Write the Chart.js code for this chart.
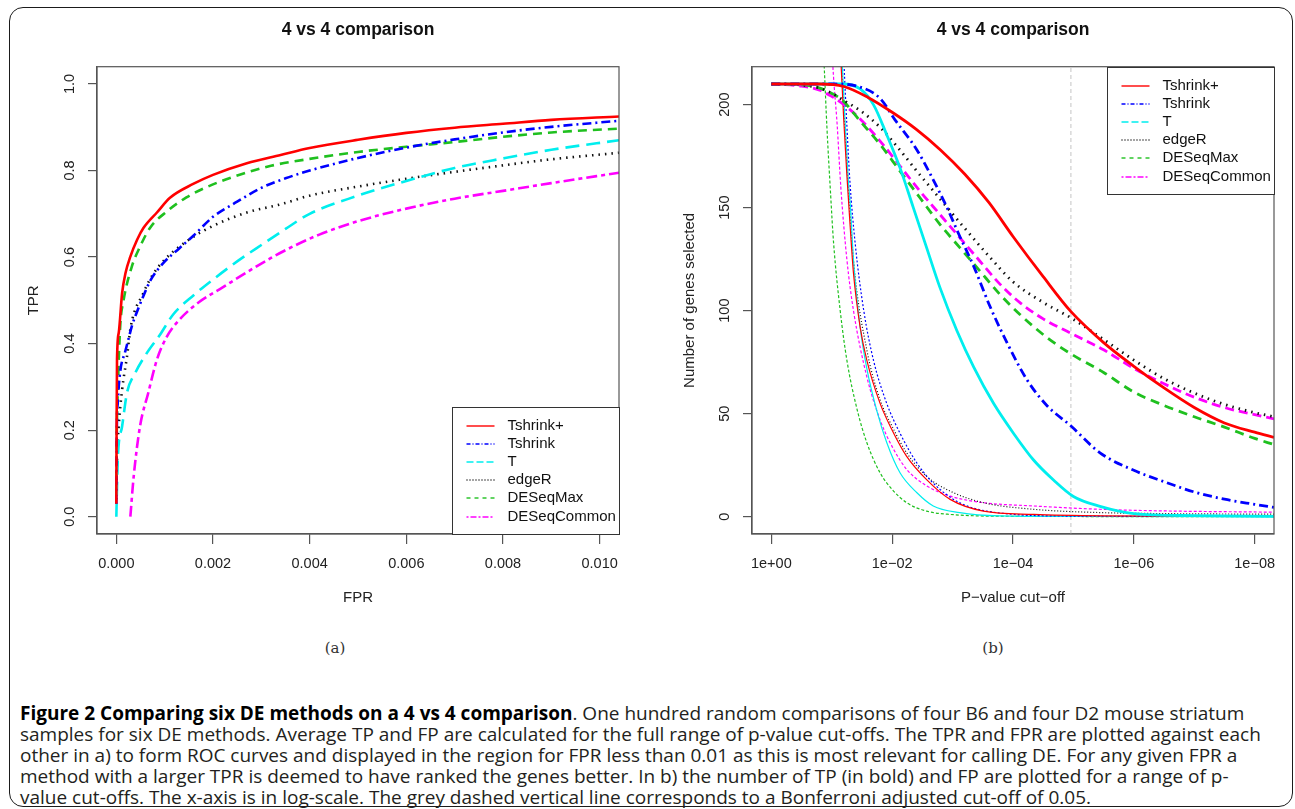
<!DOCTYPE html>
<html>
<head>
<meta charset="utf-8">
<script src="https://cdn.jsdelivr.net/npm/chart.js@4.4.1/dist/chart.umd.min.js"></script>
<style>
  html, body { margin: 0; padding: 0; background: #fff; }
  body { width: 1295px; height: 809px; overflow: hidden; position: relative; }
  #frame { position: absolute; left: 9px; top: 7px; width: 1284px; height: 800px; box-sizing: border-box;
           border: 1.5px solid #1b1b1b; border-radius: 14px; }
  canvas { position: absolute; top: 0; }
  #rocChart { left: 0; }
  #pvalChart { left: 648px; }
  .sub { position: absolute; top: 639px; line-height: 18px; font-family: "DejaVu Serif", "Liberation Serif", serif;
         font-size: 15px; color: #333; transform: translateX(-50%); }
  #caption { position: absolute; left: 20px; top: 702.5px; font-family: "Open Sans", sans-serif; font-size: 19px;
             line-height: 21px; color: #231f20; white-space: nowrap; }
  #caption b { color: #000; }
</style>
</head>
<body>
<div id="frame"></div>
<canvas id="rocChart" width="648" height="620"></canvas>
<canvas id="pvalChart" width="647" height="620"></canvas>
<div class="sub" style="left:335px">(a)</div>
<div class="sub" style="left:993px">(b)</div>
<div id="caption">
<div><b>Figure 2 Comparing six DE methods on a 4 vs 4 comparison</b>. One hundred random comparisons of four B6 and four D2 mouse striatum</div>
<div>samples for six DE methods. Average TP and FP are calculated for the full range of p-value cut-offs. The TPR and FPR are plotted against each</div>
<div>other in a) to form ROC curves and displayed in the region for FPR less than 0.01 as this is most relevant for calling DE. For any given FPR a</div>
<div>method with a larger TPR is deemed to have ranked the genes better. In b) the number of TP (in bold) and FP are plotted for a range of p-</div>
<div>value cut-offs. The x-axis is in log-scale. The grey dashed vertical line corresponds to a Bonferroni adjusted cut-off of 0.05.</div>
</div>
<script>
const methods = ['Tshrink+', 'Tshrink', 'T', 'edgeR', 'DESeqMax', 'DESeqCommon'];

// panel (a): ROC curves, [FPR, TPR]
const fprTicks = [0, 0.002, 0.004, 0.006, 0.008, 0.010];
const fprTickLabels = ['0.000', '0.002', '0.004', '0.006', '0.008', '0.010'];
const tprTicks = [0, 0.2, 0.4, 0.6, 0.8, 1.0];
const tprTickLabels = ['0.0', '0.2', '0.4', '0.6', '0.8', '1.0'];

const rocTshrinkPlus = [[0,0.03],[0.000005,0.2],[0.000014,0.363],[0.00005,0.425],[0.00012,0.517],[0.00019,0.563],
  [0.00029,0.601],[0.00043,0.64],[0.00056,0.667],[0.00084,0.703],[0.00111,0.737],[0.00159,0.769],[0.002,0.79],
  [0.0027,0.817],[0.0034,0.836],[0.004,0.852],[0.005,0.871],[0.006,0.887],[0.007,0.899],[0.008,0.908],[0.009,0.917],[0.0104,0.925]];
const rocTshrink = [[0,0.03],[0.00001,0.2],[0.00003,0.265],[0.00008,0.335],[0.00018,0.38],[0.00025,0.41],[0.00032,0.44],
  [0.00045,0.48],[0.00056,0.51],[0.0007,0.545],[0.00097,0.586],[0.0013,0.62],[0.0016,0.65],[0.002,0.693],[0.0025,0.728],
  [0.003,0.76],[0.0035,0.782],[0.004,0.8],[0.005,0.829],[0.006,0.853],[0.007,0.872],[0.008,0.888],[0.009,0.901],[0.0104,0.915]];
const rocT = [[0,0],[0.00003,0.132],[0.00012,0.209],[0.00022,0.286],[0.00039,0.332],[0.00063,0.378],[0.0009,0.42],
  [0.00118,0.468],[0.0016,0.512],[0.002,0.548],[0.0025,0.59],[0.003,0.628],[0.0035,0.665],[0.004,0.7],[0.005,0.742],
  [0.006,0.776],[0.007,0.806],[0.008,0.828],[0.009,0.848],[0.0104,0.87]];
const rocEdgeR = [[0,0.04],[0.000014,0.132],[0.00005,0.21],[0.00012,0.294],[0.00022,0.37],[0.0003,0.44],[0.00056,0.517],
  [0.00073,0.555],[0.001,0.594],[0.0015,0.64],[0.002,0.672],[0.0027,0.703],[0.0034,0.722],[0.004,0.742],[0.005,0.763],
  [0.006,0.781],[0.007,0.797],[0.008,0.812],[0.009,0.826],[0.0104,0.841]];
const rocDESeqMax = [[0,0.05],[0.00001,0.2],[0.00003,0.29],[0.00008,0.44],[0.00015,0.5],[0.00032,0.578],[0.00049,0.624],
  [0.0007,0.668],[0.00104,0.705],[0.00145,0.738],[0.002,0.768],[0.0026,0.792],[0.0032,0.811],[0.004,0.827],[0.005,0.843],
  [0.006,0.855],[0.007,0.866],[0.008,0.878],[0.009,0.888],[0.0104,0.897]];
const rocDESeqCommon = [[0.00029,0],[0.00036,0.094],[0.00049,0.209],[0.00066,0.286],[0.00084,0.363],[0.00104,0.415],
  [0.00132,0.457],[0.0017,0.495],[0.0022,0.53],[0.0027,0.565],[0.0032,0.598],[0.0037,0.627],[0.0042,0.652],[0.005,0.683],
  [0.006,0.712],[0.007,0.735],[0.008,0.753],[0.009,0.771],[0.0104,0.795]];

// panel (b): genes selected vs p-value cut-off, stored as [-log10(cut-off), count]
const pvalTicks = [1, 1e-2, 1e-4, 1e-6, 1e-8];
const pvalTickLabels = ['1e+00', '1e\u221202', '1e\u221204', '1e\u221206', '1e\u221208'];
const genesTicks = [0, 50, 100, 150, 200];
const genesTickLabels = ['0', '50', '100', '150', '200'];
const bonferroniCutoff = 1.1e-5;

// true positives (bold)
const tpTshrinkPlus = [[0,210],[0.8,210],[1.2,208.8],[1.6,203.5],[2.0,196.3],[2.4,188],[2.8,178],[3.2,166.3],[3.6,152.5],
  [4.0,136],[4.5,116.5],[4.96,99.5],[5.5,84.5],[6.0,73],[6.5,62.5],[7.0,53],[7.5,45.5],[8.0,41],[8.32,38.5]];
const tpTshrink = [[0,210],[1.0,210],[1.47,208.5],[1.8,203],[2.05,192.5],[2.41,178],[2.68,163.5],[2.9,150.5],[3.12,136],
  [3.35,121.5],[3.62,102],[3.9,84.5],[4.23,66.5],[4.56,54],[4.96,44],[5.44,31],[6.0,22.5],[6.5,17],[7.0,12],[7.5,8.5],[8.0,6],[8.32,4.5]];
const tpT = [[0,210],[1.19,210],[1.47,207.6],[1.69,200],[1.91,185.4],[2.13,169.3],[2.35,150],[2.57,130.6],[2.79,111.3],
  [3.07,90.4],[3.35,72.6],[3.68,54.9],[4.01,40.4],[4.34,27.5],[4.67,17.8],[5.0,9.8],[5.44,5],[6.0,1.5],[7.0,0.5],[8.32,0.2]];
const tpEdgeR = [[0,210],[0.5,209.5],[0.8,208],[1.0,205.5],[1.2,202],[1.5,196.5],[1.8,189],[2.1,179],[2.4,168],[2.8,154],
  [3.2,140],[3.6,126.5],[4.0,114],[4.5,104],[4.96,96.5],[5.5,86],[6.0,76],[6.5,67],[7.0,60],[7.5,54.5],[8.0,50.5],[8.32,48.5]];
const tpDESeqMax = [[0,210],[0.3,209.8],[0.75,208.5],[1.03,205],[1.19,201.7],[1.47,192],[1.8,180.7],[2.13,167.7],[2.46,154.8],
  [2.79,141.9],[3.12,130.6],[3.45,119.3],[3.78,108],[4.11,98.3],[4.56,87],[4.96,79],[5.5,70],[6.0,60.5],[6.5,54],[7.0,48.5],
  [7.5,43.5],[8.0,38],[8.32,35]];
const tpDESeqCommon = [[0,210],[0.5,209],[0.8,207],[1.0,204],[1.2,200],[1.47,193],[1.8,182.3],[2.13,170.2],[2.46,158],
  [2.79,146.7],[3.12,135.4],[3.45,124.1],[3.78,113],[4.11,104],[4.5,96],[4.96,89],[5.5,81],[6.0,72],[6.5,64.5],[7.0,58],
  [7.5,53],[8.0,49.5],[8.32,47.5]];

// false positives (thin)
const fpTshrinkPlus = [[1.1,262],[1.15,222],[1.2,192],[1.25,166],[1.3,143],[1.36,118],[1.47,92],[1.58,76],[1.8,55],[2.0,42],
  [2.24,29.3],[2.57,18],[2.96,8.4],[3.51,2.7],[4.34,1.1],[5.5,0.4],[8.32,0.1]];
const fpTshrink = [[1.15,262],[1.2,222],[1.25,190],[1.3,163],[1.39,132],[1.53,100],[1.69,76],[1.91,55],[2.13,40.5],[2.41,26],
  [2.68,16.3],[3.12,6.7],[3.78,1.8],[5.0,0.3],[8.32,0.1]];
const fpT = [[1.12,262],[1.17,222],[1.22,192],[1.27,165],[1.31,150],[1.36,124.5],[1.47,92],[1.58,72],[1.75,51],[1.91,36],
  [2.13,21.3],[2.41,11.6],[2.68,5.2],[3.12,2],[3.78,0.4],[5.0,0.1],[8.32,0]];
const fpEdgeR = [[1.11,262],[1.16,222],[1.25,173],[1.36,124.5],[1.58,81],[1.8,56.7],[2.0,43.8],[2.24,31],[2.57,19.6],
  [2.96,12.4],[3.51,6.8],[4.34,3.6],[5.44,2],[6.5,1.5],[8.32,1.2]];
const fpDESeqMax = [[0.8,265],[0.876,218],[0.92,189],[0.98,157],[1.03,133],[1.14,100],[1.25,76],[1.42,52],[1.58,36],
  [1.8,21.3],[2.0,13.2],[2.24,6.8],[2.57,2.7],[2.96,1.1],[4.0,0.2],[8.32,0]];
const fpDESeqCommon = [[0.95,262],[1.02,218],[1.09,190],[1.15,160],[1.25,125],[1.36,100],[1.58,68],[1.8,47],[2.0,34],
  [2.24,23],[2.57,15],[2.96,10],[3.51,6.8],[4.34,5.2],[5.44,3.6],[6.5,2.8],[8.32,2.2]];

// styles
const colours = ['#ff0000', '#0000ff', '#00eeee', '#111111', '#1fc01f', '#ff00ff'];
const rocDash = [[], [9, 4, 2, 4], [14, 7], [1.5, 5], [9, 6], [11, 4, 4, 4]];
const tpDash = [[], [9, 4, 2, 4], [], [1.5, 5], [9, 6], [9, 5]];
const fpDash = [[], [2, 2], [], [1, 2], [3, 2], [3, 2]];
const legendDash = [[], [4, 2, 1, 2], [7, 3], [1, 2], [4, 4], [2, 2, 6, 2]];
const sans = '"Liberation Sans", Arial, Helvetica, sans-serif';
const ink = '#222';

const toXY = pairs => pairs.map(([x, y]) => ({x, y}));
const toCut = pairs => pairs.map(([d, y]) => ({x: Math.pow(10, -d), y}));

// plot box, R-style y tick labels and legend box
function rFrame(yLabels, corner) {
  return {
    id: 'rFrame',
    afterDatasetsDraw(chart) {
      const {ctx, chartArea: a} = chart;
      const ys = chart.scales.y;
      ctx.save();
      ctx.setLineDash([]);
      ctx.strokeStyle = '#555';
      ctx.lineWidth = 1.2;
      ctx.strokeRect(a.left, a.top, a.right - a.left, a.bottom - a.top);

      ctx.fillStyle = ink;
      ctx.font = '14.5px ' + sans;
      ctx.textAlign = 'center';
      ctx.textBaseline = 'middle';
      ys.ticks.forEach((t, i) => {
        ctx.save();
        ctx.translate(a.left - 27, ys.getPixelForValue(t.value));
        ctx.rotate(-Math.PI / 2);
        ctx.fillText(yLabels[i], 0, 0);
        ctx.restore();
      });

      const w = 167, h = 127;
      const x0 = Math.round(a.right - w) + 0.5;
      const y0 = Math.round(corner === 'top' ? a.top : a.bottom - h) + 0.5;
      ctx.fillStyle = '#fff';
      ctx.fillRect(x0, y0, w, h);
      ctx.strokeStyle = '#333';
      ctx.lineWidth = 1;
      ctx.strokeRect(x0, y0, w, h);
      ctx.font = '15px ' + sans;
      ctx.textAlign = 'left';
      methods.forEach((name, i) => {
        const y = Math.round(y0 + 18 + i * 18.2);
        ctx.strokeStyle = colours[i];
        ctx.lineWidth = 1.4;
        ctx.setLineDash(legendDash[i]);
        ctx.beginPath();
        ctx.moveTo(x0 + 14, y);
        ctx.lineTo(x0 + 42, y);
        ctx.stroke();
        ctx.setLineDash([]);
        ctx.fillStyle = '#111';
        ctx.fillText(name, x0 + 55, y);
      });
      ctx.restore();
    }
  };
}

function baseOptions(yWidth, yTitlePad, rightPad) {
  return {
    responsive: false,
    animation: false,
    events: [],
    layout: {padding: {left: 0, right: rightPad, top: 0, bottom: 13}},
    plugins: {
      legend: {display: false},
      tooltip: {enabled: false},
      title: {display: true, text: '4 vs 4 comparison', fullSize: false, color: '#111',
              font: {family: sans, size: 17.5, weight: 'bold'}, padding: {top: 19.5, bottom: 26.2}}
    },
    scales: {
      x: {
        ticks: {font: {family: sans, size: 14.5}, color: ink, padding: 11, maxRotation: 0, autoSkip: false},
        grid: {drawOnChartArea: false, tickLength: 10, color: '#555', lineWidth: 1.2},
        border: {color: '#555', width: 1.2},
        title: {display: true, font: {family: sans, size: 15}, color: ink, padding: {top: 0, bottom: 0}},
        afterFit: s => { s.height = 73; }
      },
      y: {
        ticks: {display: false},
        grid: {drawOnChartArea: false, tickLength: 9, color: '#555', lineWidth: 1.2},
        border: {color: '#555', width: 1.2},
        title: {display: true, font: {family: sans, size: 15}, color: ink, padding: {top: yTitlePad, bottom: 0}},
        afterFit: s => { s.width = yWidth; }
      }
    }
  };
}

// ---- (a) ROC ----
const rocSeries = [rocTshrinkPlus, rocTshrink, rocT, rocEdgeR, rocDESeqMax, rocDESeqCommon];
const optA = baseOptions(97, 25, 29);
Object.assign(optA.scales.x, {
  type: 'linear', min: -0.0004, max: 0.0104,
  afterBuildTicks: s => { s.ticks = fprTicks.map(v => ({value: v})); }
});
optA.scales.x.ticks.callback = (v, i) => fprTickLabels[i];
optA.scales.x.title.text = 'FPR';
Object.assign(optA.scales.y, {
  type: 'linear', min: -0.04, max: 1.04,
  afterBuildTicks: s => { s.ticks = tprTicks.map(v => ({value: v})); }
});
optA.scales.y.title.text = 'TPR';

new Chart(document.getElementById('rocChart'), {
  type: 'line',
  data: {
    datasets: rocSeries.map((s, i) => ({
      label: methods[i], data: toXY(s), borderColor: colours[i], borderDash: rocDash[i],
      borderWidth: 2.6, pointRadius: 0, fill: false, cubicInterpolationMode: 'monotone', clip: 0
    }))
  },
  options: optA,
  plugins: [rFrame(tprTickLabels, 'bottom')]
});

// ---- (b) number of genes vs p-value cut-off ----
const tpSeries = [tpTshrinkPlus, tpTshrink, tpT, tpEdgeR, tpDESeqMax, tpDESeqCommon];
const fpSeries = [fpTshrinkPlus, fpTshrink, fpT, fpEdgeR, fpDESeqMax, fpDESeqCommon];
const genesMin = -8.4, genesMax = 218.4;
const optB = baseOptions(104, 33, 21);
Object.assign(optB.scales.x, {
  type: 'logarithmic', reverse: true, min: Math.pow(10, -8.32), max: Math.pow(10, 0.32),
  afterBuildTicks: s => { s.ticks = pvalTicks.map(v => ({value: v})); }
});
optB.scales.x.ticks.callback = (v, i) => pvalTickLabels[i];
optB.scales.x.title.text = 'P\u2212value cut\u2212off';
Object.assign(optB.scales.y, {
  type: 'linear', min: genesMin, max: genesMax,
  afterBuildTicks: s => { s.ticks = genesTicks.map(v => ({value: v})); }
});
optB.scales.y.title.text = 'Number of genes selected';

new Chart(document.getElementById('pvalChart'), {
  type: 'line',
  data: {
    datasets: [
      ...tpSeries.map((s, i) => ({
        label: methods[i] + ' TP', data: toCut(s), borderColor: colours[i], borderDash: tpDash[i],
        borderWidth: 2.8, pointRadius: 0, fill: false, cubicInterpolationMode: 'monotone', clip: 0
      })),
      ...fpSeries.map((s, i) => ({
        label: methods[i] + ' FP', data: toCut(s), borderColor: colours[i], borderDash: fpDash[i],
        borderWidth: 1.2, pointRadius: 0, fill: false, cubicInterpolationMode: 'monotone', clip: 0
      })),
      {
        label: 'Bonferroni', data: [{x: bonferroniCutoff, y: genesMin}, {x: bonferroniCutoff, y: genesMax}],
        borderColor: '#c4c4c4', borderDash: [4, 3], borderWidth: 1, pointRadius: 0, clip: 0
      }
    ]
  },
  options: optB,
  plugins: [rFrame(genesTickLabels, 'top')]
});
</script>
</body>
</html>
